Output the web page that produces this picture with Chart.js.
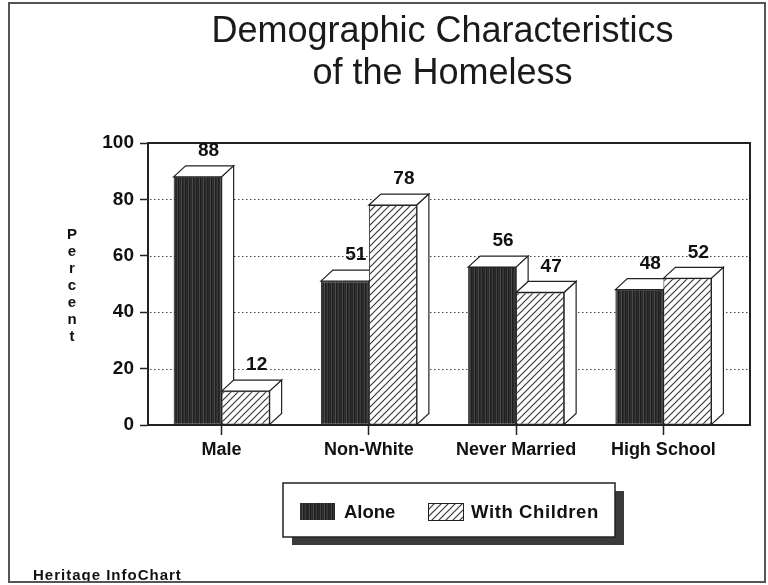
<!DOCTYPE html>
<html>
<head>
<meta charset="utf-8">
<script src="https://cdn.jsdelivr.net/npm/chart.js@4/dist/chart.umd.min.js"></script>
<style>
  html, body { margin: 0; padding: 0; background: #fff; }
  #wrap { position: relative; width: 768px; height: 585px; }
</style>
</head>
<body>
<div id="wrap"><canvas id="c"></canvas></div>
<script>
const categories = ['Male', 'Non-White', 'Never Married', 'High School'];
const aloneValues = [88, 51, 56, 48];
const withChildrenValues = [12, 78, 47, 52];
const seriesNames = ['Alone', 'With Children'];
const yTicks = [0, 20, 40, 60, 80, 100];
const titleLines = ['Demographic Characteristics', 'of the Homeless'];
const axisTitle = 'Percent';
const footnote = 'Heritage InfoChart';

const FONT = "'Liberation Sans', Arial, Helvetica, sans-serif";
const DX = 12, DY = 11;

function makeAlonePattern() {
  const c = document.createElement('canvas');
  const cols = ['#262626', '#444444', '#1c1c1c', '#333333', '#292929', '#4c4c4c', '#1f1f1f', '#2d2d2d', '#3b3b3b', '#212121', '#2b2b2b'];
  c.width = cols.length; c.height = 4;
  const g = c.getContext('2d');
  cols.forEach((col, i) => { g.fillStyle = col; g.fillRect(i, 0, 1, 4); });
  return g.createPattern(c, 'repeat');
}
function makeHatchPattern() {
  const s = 7;
  const c = document.createElement('canvas');
  c.width = s; c.height = s;
  const g = c.getContext('2d');
  g.fillStyle = '#ffffff'; g.fillRect(0, 0, s, s);
  g.strokeStyle = '#3a3a3a'; g.lineWidth = 1.2;
  g.beginPath();
  g.moveTo(0, s); g.lineTo(s, 0);
  g.moveTo(-1, 1); g.lineTo(1, -1);
  g.moveTo(s - 1, s + 1); g.lineTo(s + 1, s - 1);
  g.stroke();
  return g.createPattern(c, 'repeat');
}
const alonePattern = makeAlonePattern();
const hatchPattern = makeHatchPattern();

const deco = {
  id: 'deco',
  beforeDatasetsDraw(chart) {
    const { ctx, chartArea: a, scales: { y } } = chart;
    const boxRight = a.right + 13;
    ctx.save();
    ctx.strokeStyle = '#444'; ctx.lineWidth = 1; ctx.setLineDash([1.5, 2.5]);
    yTicks.forEach(v => {
      if (v > 0 && v < 100) {
        const py = Math.round(y.getPixelForValue(v)) + 0.5;
        ctx.beginPath(); ctx.moveTo(a.left + 2, py); ctx.lineTo(boxRight, py); ctx.stroke();
      }
    });
    ctx.setLineDash([]);
    ctx.strokeStyle = '#222'; ctx.lineWidth = 2;
    ctx.beginPath();
    ctx.moveTo(a.left, a.top); ctx.lineTo(boxRight, a.top); ctx.lineTo(boxRight, a.bottom); ctx.lineTo(a.left, a.bottom);
    ctx.stroke();
    // 3D top and side faces
    ctx.lineWidth = 1.2; ctx.strokeStyle = '#222'; ctx.fillStyle = '#fff';
    chart.data.datasets.forEach((ds, i) => {
      chart.getDatasetMeta(i).data.forEach(bar => {
        const p = bar.getProps(['x', 'y', 'width', 'base'], true);
        const l = p.x - p.width / 2, r = p.x + p.width / 2, t = p.y, b = p.base;
        ctx.beginPath();
        ctx.moveTo(l, t); ctx.lineTo(l + DX, t - DY); ctx.lineTo(r + DX, t - DY); ctx.lineTo(r, t); ctx.closePath();
        ctx.fill(); ctx.stroke();
        ctx.beginPath();
        ctx.moveTo(r, t); ctx.lineTo(r + DX, t - DY); ctx.lineTo(r + DX, b - DY); ctx.lineTo(r, b); ctx.closePath();
        ctx.fill(); ctx.stroke();
      });
    });
    ctx.restore();
  },
  afterDatasetsDraw(chart) {
    const { ctx } = chart;
    ctx.save();
    ctx.font = 'bold 19px ' + FONT;
    ctx.fillStyle = '#111'; ctx.textAlign = 'center'; ctx.textBaseline = 'middle';
    chart.data.datasets.forEach((ds, i) => {
      chart.getDatasetMeta(i).data.forEach((bar, j) => {
        const p = bar.getProps(['x', 'y'], true);
        ctx.fillText(String(ds.data[j]), p.x + 11, p.y - DY - 15);
      });
    });
    ctx.restore();
  },
  afterDraw(chart) {
    const { ctx } = chart;
    ctx.save();
    // vertical axis title
    ctx.font = 'bold 15px ' + FONT;
    ctx.fillStyle = '#111'; ctx.textAlign = 'center'; ctx.textBaseline = 'middle';
    axisTitle.split('').forEach((ch, i) => ctx.fillText(ch, 72, 235 + i * 17));
    // legend
    ctx.fillStyle = '#3a3a3a';
    ctx.fillRect(292, 491, 332, 54);
    ctx.fillStyle = '#fff';
    ctx.fillRect(283, 483, 332, 54);
    ctx.strokeStyle = '#222'; ctx.lineWidth = 1.5;
    ctx.strokeRect(283, 483, 332, 54);
    ctx.fillStyle = alonePattern;
    ctx.fillRect(300, 503, 35, 17);
    ctx.fillStyle = hatchPattern;
    ctx.fillRect(428, 503, 35, 17);
    ctx.lineWidth = 1; ctx.strokeRect(428.5, 503.5, 35, 17);
    ctx.font = 'bold 18.5px ' + FONT;
    ctx.fillStyle = '#111'; ctx.textAlign = 'left'; ctx.textBaseline = 'middle';
    ctx.fillText(seriesNames[0], 344, 513);
    ctx.letterSpacing = '0.6px';
    ctx.fillText(seriesNames[1], 471, 513);
    // footnote
    ctx.font = 'bold 15px ' + FONT;
    ctx.letterSpacing = '1px';
    ctx.fillText(footnote, 33, 576);
    ctx.letterSpacing = '0px';
    // frame
    ctx.strokeStyle = '#555'; ctx.lineWidth = 2;
    ctx.strokeRect(9, 3, 756, 579);
    ctx.restore();
  }
};

new Chart(document.getElementById('c'), {
  type: 'bar',
  data: {
    labels: categories,
    datasets: [
      { label: seriesNames[0], data: aloneValues, backgroundColor: alonePattern, borderColor: '#222', borderWidth: 1, borderSkipped: false },
      { label: seriesNames[1], data: withChildrenValues, backgroundColor: hatchPattern, borderColor: '#222', borderWidth: 1, borderSkipped: false }
    ]
  },
  options: {
    responsive: true,
    maintainAspectRatio: false,
    animation: false,
    datasets: { bar: { categoryPercentage: 0.652, barPercentage: 1.0 } },
    layout: { padding: { left: 0, right: 31, top: 0, bottom: 115 } },
    plugins: {
      legend: { display: false },
      tooltip: { enabled: false },
      title: {
        display: true,
        fullSize: false,
        text: titleLines,
        color: '#1a1a1a',
        font: { family: FONT, size: 36, weight: 'normal', lineHeight: 42 / 36 },
        padding: { top: 11, bottom: 48 }
      }
    },
    scales: {
      x: {
        offset: true,
        grid: { offset: false, drawOnChartArea: false, drawTicks: true, tickLength: 10, tickColor: '#222', tickWidth: 1.5 },
        border: { display: true, color: '#222', width: 2 },
        ticks: { color: '#111', font: { family: FONT, size: 18, weight: 'bold' }, padding: 4, maxRotation: 0 },
        afterFit(scale) { scale.height = 45; }
      },
      y: {
        min: 0, max: 100,
        afterBuildTicks(scale) { scale.ticks = yTicks.map(v => ({ value: v })); },
        grid: { drawOnChartArea: false, drawTicks: true, tickLength: 8, tickColor: '#222', tickWidth: 1.5 },
        border: { display: true, color: '#222', width: 2 },
        ticks: { color: '#111', font: { family: FONT, size: 19, weight: 'bold' }, padding: 6 },
        afterFit(scale) { scale.width = 148; }
      }
    }
  },
  plugins: [deco]
});
</script>
</body>
</html>
